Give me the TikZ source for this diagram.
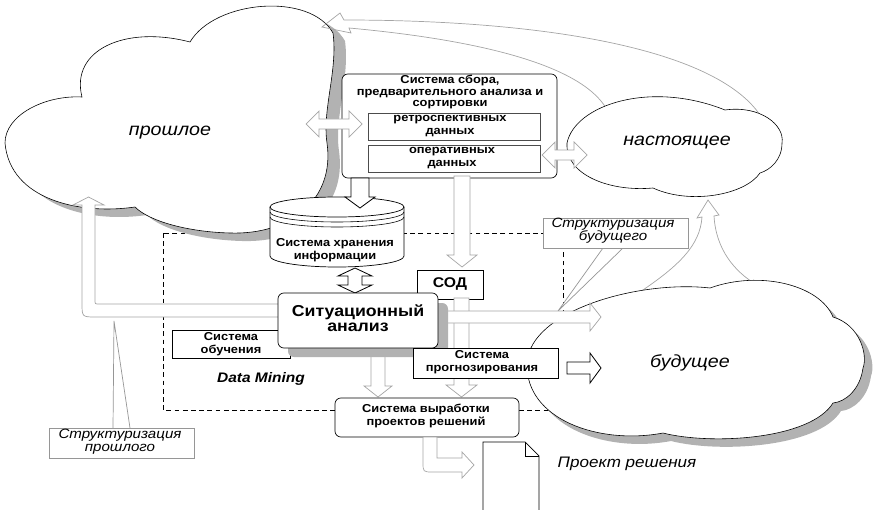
\documentclass[tikz,border=0pt]{standalone}
\usepackage{fontspec}
\setmainfont[FakeStretch=1.12]{Liberation Sans}
\usepackage{tikz}
\definecolor{shadegray}{RGB}{178,178,178}
\definecolor{arrowgray}{RGB}{165,165,165}
\definecolor{hintgray}{RGB}{150,150,150}

\begin{document}
\begin{tikzpicture}[x=0.03cm,y=-0.03cm,
  cloudline/.style={draw=black,line width=0.5pt,fill=white},
  garrow/.style={draw=arrowgray,line width=0.6pt,fill=white},
  barrow/.style={draw=black,line width=0.7pt,fill=white},
  sqbox/.style={draw=black,line width=0.6pt,fill=white},
  rbox/.style={sqbox,rounded corners=5pt},
  ibox/.style={draw=black!70,line width=0.8pt,fill=white},
  hintbox/.style={draw=hintgray,line width=0.6pt,fill=white},
  dashline/.style={draw=black,line width=0.6pt,dash pattern=on 4pt off 3pt},
  lbl/.style={font=\fontsize{9.8}{10.8}\selectfont\bfseries,align=center,inner sep=0pt},
  biglbl/.style={font=\fontsize{13.5}{13}\selectfont\bfseries,align=center,inner sep=0pt},
  cloudtxt/.style={font=\fontsize{15}{17}\selectfont\itshape,inner sep=0pt},
  note/.style={font=\fontsize{11.5}{11}\selectfont\itshape,align=center,inner sep=0pt}]
\useasboundingbox (0,0) rectangle (874,510);

% Data Mining frame
\draw[dashline] (163,233) rectangle (563,410);

% past
\fill[shadegray,shift={(12,8)}] (5,143) .. controls (5,115) and (45,95) .. (82,97)
  .. controls (70,50) and (125,25) .. (190,42)
  .. controls (215,0) and (310,-8) .. (333,33)
  .. controls (338,70) and (322,110) .. (327,143)
  .. controls (335,200) and (290,235) .. (230,233)
  .. controls (190,232) and (150,222) .. (135,207)
  .. controls (80,215) and (10,200) .. (5,143) -- cycle;
\draw[cloudline] (5,143) .. controls (5,115) and (45,95) .. (82,97)
  .. controls (70,50) and (125,25) .. (190,42)
  .. controls (215,0) and (310,-8) .. (333,33)
  .. controls (338,70) and (322,110) .. (327,143)
  .. controls (335,200) and (290,235) .. (230,233)
  .. controls (190,232) and (150,222) .. (135,207)
  .. controls (80,215) and (10,200) .. (5,143) -- cycle;

% present -> past
\draw[garrow,fill=none] (762,118) .. controls (720,50) and (550,20) .. (344,20)
  -- (340,13) -- (322,27) -- (351,33) -- (349,28)
  .. controls (480,40) and (580,65) .. (606,108);

% present
\draw[cloudline] (567,143) .. controls (575,105) and (650,80) .. (725,110)
  .. controls (760,105) and (785,125) .. (782,143)
  .. controls (782,160) and (770,170) .. (760,173)
  .. controls (745,195) and (690,205) .. (653,188)
  .. controls (610,192) and (565,175) .. (567,143) -- cycle;

% future
\fill[shadegray,shift={(8,8)}] (527,363) .. controls (530,310) and (640,280) .. (710,288)
  .. controls (760,270) and (820,285) .. (833,317)
  .. controls (860,325) and (868,355) .. (863,368)
  .. controls (860,390) and (845,402) .. (833,403)
  .. controls (810,440) and (710,445) .. (663,433)
  .. controls (600,445) and (525,420) .. (527,363) -- cycle;
\draw[garrow] (640,292) .. controls (680,265) and (700,245) .. (702,217)
  -- (697,218) -- (708,200) -- (719,215) -- (714,216)
  .. controls (716,250) and (735,272) .. (757,285);
\draw[cloudline] (527,363) .. controls (530,310) and (640,280) .. (710,288)
  .. controls (760,270) and (820,285) .. (833,317)
  .. controls (860,325) and (868,355) .. (863,368)
  .. controls (860,390) and (845,402) .. (833,403)
  .. controls (810,440) and (710,445) .. (663,433)
  .. controls (600,445) and (525,420) .. (527,363) -- cycle;

% structuring hints
\draw[hintbox] (113,428) -- (114,321) -- (130,428);
\draw[hintbox] (49,428) rectangle (194,458);
\draw[hintbox] (603,248) -- (558,311) -- (623,248);
\draw[hintbox] (543,218) rectangle (688,248);

% situational analysis -> past
\draw[garrow] (285,304) -- (99,304) .. controls (95,304) .. (95,300) -- (95,205)
  -- (104,205) -- (88.5,197) -- (73,205) -- (82,205) -- (82,303)
  .. controls (82,317) .. (96,317) -- (285,317) -- cycle;

% collecting system
\draw[rbox] (342,74) rectangle (557,178);
\draw[ibox] (368,113) rectangle (540,140);
\draw[ibox] (368,145) rectangle (540,172);
\draw[garrow] (306,124) -- (319,111) -- (319,119) -- (349,119) -- (349,111) -- (362,124)
  -- (349,137) -- (349,129) -- (319,129) -- (319,137) -- cycle;
\draw[garrow] (542,155) -- (555,142) -- (555,150) -- (574,150) -- (574,142) -- (587,155)
  -- (574,168) -- (574,160) -- (555,160) -- (555,168) -- cycle;
\draw[garrow] (454,176) -- (470,176) -- (470,255) -- (477,255) -- (462,267)
  -- (447,255) -- (454,255) -- cycle;

% storage
\draw[sqbox] (270,207) -- (270,256) arc[start angle=180,end angle=0,x radius=67,y radius=11]
  -- (404,207) arc[start angle=0,end angle=-180,x radius=67,y radius=10] -- cycle;
\draw[line width=0.6pt] (270,207) arc[start angle=180,end angle=0,x radius=67,y radius=10];
\draw[line width=0.5pt] (270,212) arc[start angle=180,end angle=0,x radius=67,y radius=10];
\draw[line width=0.5pt] (270,217) arc[start angle=180,end angle=0,x radius=67,y radius=10];
\draw[barrow] (351,178) -- (369,178) -- (369,197) -- (375,197) -- (360,208) -- (345,197) -- (351,197) -- cycle;
\draw[barrow] (355,268) -- (372,276) -- (362,276) -- (362,285) -- (372,285) -- (355,293)
  -- (338,285) -- (348,285) -- (348,276) -- (338,276) -- cycle;

\draw[sqbox] (417,270) rectangle (483,299);

% arrows out of situational analysis
\draw[garrow] (454,298) -- (469,298) -- (469,385) -- (477,385) -- (461.5,397) -- (446,385) -- (454,385) -- cycle;
\draw[garrow] (371,350) -- (385,350) -- (385,386) -- (392,386) -- (378,397) -- (364,386) -- (371,386) -- cycle;
\draw[garrow] (440,311) -- (590,311) -- (590,303) -- (601,317) -- (590,331) -- (590,323) -- (440,323) -- cycle;

\draw[sqbox] (172,330) rectangle (290,358);
\fill[shadegray,rounded corners=5pt] (288,303) rectangle (448,357);
\draw[rbox] (278,293) rectangle (438,348);

\draw[sqbox] (413,348) rectangle (558,378);
\draw[barrow] (567,362) -- (590,362) -- (590,353) -- (601,368) -- (590,383) -- (590,374) -- (567,374) -- cycle;

% decisions
\draw[rbox] (335,398) rectangle (519,437);
\draw[garrow] (423,437) -- (423,462) .. controls (423,472) .. (433,472) -- (462,472) -- (462,478)
  -- (474,465) -- (462,452) -- (462,458) -- (437,458) -- (437,437) -- cycle;
\draw[sqbox] (483,515) -- (483,442) -- (525,442) -- (539,456) -- (539,515);
\draw[line width=0.6pt] (525,442) -- (525,456) -- (539,456);

% texts
\node[cloudtxt] (past) at (170,133) {прошлое};
\node[cloudtxt] (present) at (677,143) {настоящее};
\node[cloudtxt] (future) at (690,363) {будущее};
\node[lbl,font=\fontsize{9.8}{10.2}\selectfont\bfseries] (collect) at (450,92) {Система сбора,\\предварительного анализа и\\сортировки};
\node[lbl] (retro) at (450,126) {ретроспективных\\данных};
\node[lbl] (oper) at (452,158) {оперативных\\данных};
\node[lbl] (store) at (335,250) {Система хранения\\информации};
\node[lbl,font=\fontsize{12}{12}\selectfont\bfseries] (sod) at (450,284) {СОД};
\node[biglbl] (situ) at (358,318) {Ситуационный\\анализ};
\node[lbl] (learn) at (231,344) {Система\\обучения};
\node[lbl] (forecast) at (482,362) {Система\\прогнозирования};
\node[lbl] (decide) at (426,416) {Система выработки\\проектов решений};
\node[font=\fontsize{11.8}{12}\selectfont\bfseries\itshape,inner sep=0pt] (dm) at (261,379) {Data Mining};
\node[note,font=\fontsize{13}{14}\selectfont\itshape] (project) at (627,464) {Проект решения};
\node[note] (hintfut) at (613,231) {Структуризация\\будущего};
\node[note] (hintpast) at (120,442) {Структуризация\\прошлого};
\end{tikzpicture}
\end{document}
